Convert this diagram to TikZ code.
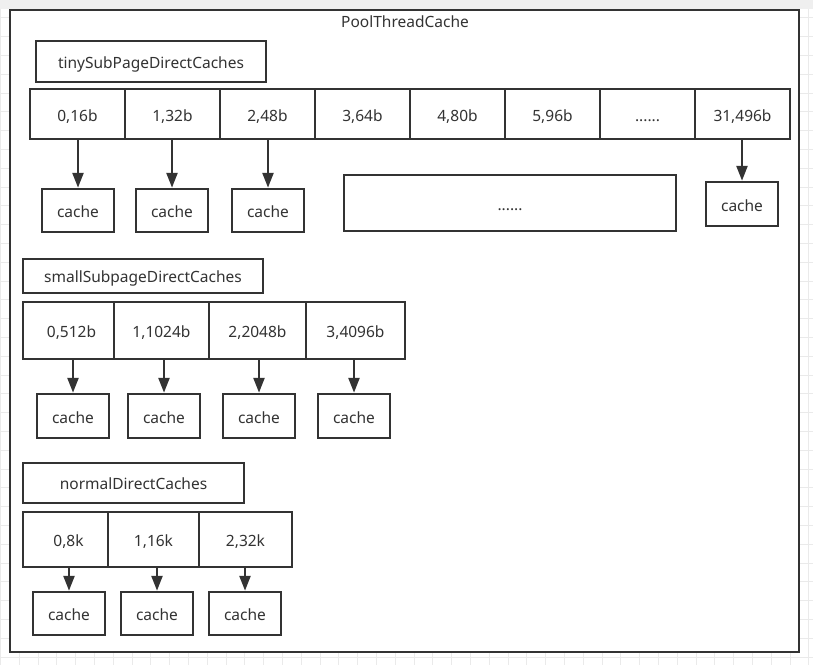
\documentclass[tikz,border=0pt]{standalone}
\usepackage{fontspec}
\setmainfont{Noto Sans}
\usetikzlibrary{arrows.meta}
\definecolor{ink}{HTML}{333333}
\definecolor{gridline}{HTML}{EAEAEA}
\definecolor{topbar}{HTML}{EFEFEF}
\begin{document}
\begin{tikzpicture}[x=1pt,y=-1pt,
  every node/.style={font=\fontsize{15.5}{18}\selectfont, text=ink},
  box/.style={draw=ink, line width=2.5pt, fill=white, inner sep=0pt, anchor=center,
    text height=14.5pt, text depth=0pt},
  cell/.style={box},
  cachebox/.style={box, minimum width=72pt, minimum height=43pt},
  link/.style={draw=ink, line width=2.5pt, -{Triangle[length=15pt,width=11pt]}},
]
% canvas with grid
\useasboundingbox (0,0) rectangle (813,665);
\fill[white] (0,0) rectangle (813,665);
\foreach \gx in {0,...,43} \draw[gridline, line width=1pt] (0.4+18.8*\gx,0) -- (0.4+18.8*\gx,665);
\foreach \gy in {0,...,34} \draw[gridline, line width=1pt] (0,17.9+18.8*\gy) -- (813,17.9+18.8*\gy);
\fill[topbar] (0,0) rectangle (813,9);

% outer container
\node[box, minimum width=789pt, minimum height=642pt] (pool) at (404.5,331) {};
\node (title) at (405,21.5) {PoolThreadCache};

% tiny subpage caches
\node[box, minimum width=230pt, minimum height=41pt, text height=13pt] (tinylbl) at (151,61.5) {tinySubPageDirectCaches};
\foreach \i/\t in {0/{0,16b},1/{1,32b},2/{2,48b},3/{3,64b},4/{4,80b},5/{5,96b},6/{......},7/{31,496b}}
  \node[cell, minimum width=95pt, minimum height=50pt] (t\i) at (77.5+95*\i,114) {\t};
\node[cachebox] (tc0) at (78,210.5) {cache};
\node[cachebox] (tc1) at (172,210.5) {cache};
\node[cachebox] (tc2) at (268,210.5) {cache};
\node[box, minimum width=332pt, minimum height=56pt] (tmore) at (510,203) {......};
\node[cachebox, minimum height=44pt] (tc7) at (742,204) {cache};
\foreach \i in {0,1,2,7} \draw[link] (t\i.south -| tc\i.north) -- (tc\i.north);

% small subpage caches
\node[box, minimum width=240pt, minimum height=34pt, text height=13pt] (smalllbl) at (143,276) {smallSubpageDirectCaches};
\node[cell, minimum width=91pt, minimum height=57pt] (s0) at (68.5,330.5) {\hspace{6pt}0,512b};
\node[cell, minimum width=95pt, minimum height=57pt] (s1) at (161.5,330.5) {1,1024b};
\node[cell, minimum width=97pt, minimum height=57pt] (s2) at (257.5,330.5) {2,2048b};
\node[cell, minimum width=99pt, minimum height=57pt] (s3) at (355.5,330.5) {3,4096b};
\node[cachebox, minimum height=44pt] (sc0) at (73,416) {cache};
\node[cachebox, minimum height=44pt] (sc1) at (164,416) {cache};
\node[cachebox, minimum height=44pt] (sc2) at (259,416) {cache};
\node[cachebox, minimum height=44pt] (sc3) at (354,416) {cache};
\foreach \i in {0,...,3} \draw[link] (s\i.south -| sc\i.north) -- (sc\i.north);

% normal caches
\node[box, minimum width=221pt, minimum height=40pt, text height=13pt] (normallbl) at (133.5,483) {normalDirectCaches};
\node[cell, minimum width=85pt, minimum height=55pt] (n0) at (65.5,539.5) {\hspace{6pt}0,8k};
\node[cell, minimum width=91pt, minimum height=55pt] (n1) at (153.5,539.5) {1,16k};
\node[cell, minimum width=93pt, minimum height=55pt] (n2) at (245.5,539.5) {2,32k};
\node[cachebox] (nc0) at (69,613.5) {cache};
\node[cachebox] (nc1) at (157,613.5) {cache};
\node[cachebox] (nc2) at (245,613.5) {cache};
\foreach \i in {0,1,2} \draw[link] (n\i.south -| nc\i.north) -- (nc\i.north);
\end{tikzpicture}
\end{document}
